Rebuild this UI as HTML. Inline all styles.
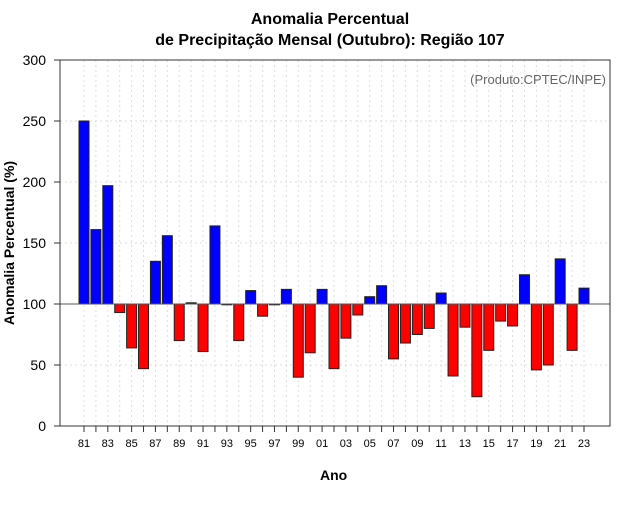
<!DOCTYPE html>
<html><head><meta charset="utf-8"><style>
body{margin:0;background:#fff;font-family:"Liberation Sans",sans-serif}
</style></head><body>
<svg id="c" width="640" height="500" xmlns="http://www.w3.org/2000/svg" font-family="Liberation Sans, sans-serif"></svg>
<script>
const years=["81","82","83","84","85","86","87","88","89","90","91","92","93","94","95","96","97","98","99","00","01","02","03","04","05","06","07","08","09","10","11","12","13","14","15","16","17","18","19","20","21","22","23"];
const values=[250,161,197,93,64,47,135,156,70,101,61,164,100,70,111,90,100,112,40,60,112,47,72,91,106,115,55,68,75,80,109,41,81,24,62,86,82,124,46,50,137,62,113];
const yTicks=[0,50,100,150,200,250,300];
const svg=document.getElementById('c');
const NS="http://www.w3.org/2000/svg";
const L=60,R=610,T=60,B=426,x0=84,dx=(584-84)/42;
const X=i=>x0+i*dx, Y=v=>B-(v/300)*(B-T);
function el(t,a,txt){const e=document.createElementNS(NS,t);for(const k in a)e.setAttribute(k,a[k]);if(txt!==undefined)e.textContent=txt;svg.appendChild(e);return e;}
years.forEach((y,i)=>{const g=el('line',{x1:X(i),x2:X(i),y1:T,y2:B,stroke:'#ddd','stroke-dasharray':'2,3'});

});
yTicks.forEach(v=>{const g=el('line',{x1:L,x2:R,y1:Y(v),y2:Y(v),stroke:'#ddd','stroke-dasharray':'2,3'});


const t=el('line',{x1:L-6,x2:L,y1:Y(v),y2:Y(v),stroke:'#333'});


const l=el('text',{x:L-14,y:Y(v)+5,'text-anchor':'end','font-size':14,fill:'#000'},v);

});
values.forEach((v,i)=>{const top=Math.min(Y(v),Y(100)),h=Math.abs(Y(v)-Y(100));
const b=el('rect',{x:X(i)-5,y:top,width:10,height:Math.max(h,0.8),fill:v>=100?'#0000ff':'#ff0000',stroke:'#222','stroke-width':1});


const t=el('line',{x1:X(i),x2:X(i),y1:B,y2:B+6,stroke:'#333'});


if(i%2==0){const l=el('text',{x:X(i),y:B+21,'text-anchor':'middle','font-size':11,fill:'#000'},years[i]);

}});
const bl=el('line',{x1:L,x2:R,y1:Y(100),y2:Y(100),stroke:'#555','stroke-width':1});


const box=el('rect',{x:L,y:T,width:R-L,height:B-T,fill:'none',stroke:'#333'});


</script>
<div style="position:absolute;left:0;top:0;width:640px;height:500px;pointer-events:none">
<div style="position:absolute;top:9px;width:640px;text-align:center;font-weight:bold;font-size:16px;line-height:21px;padding-left:20px;box-sizing:border-box">Anomalia Percentual<br>de Precipitação Mensal (Outubro): Região 107</div>
<div style="position:absolute;right:34px;top:72px;font-size:13px;color:#666">(Produto:CPTEC/INPE)</div>
<div style="position:absolute;left:320px;top:467px;font-weight:bold;font-size:14px">Ano</div>
<div style="position:absolute;left:9px;top:243px;font-weight:bold;font-size:14px;transform:translate(-50%,-50%) rotate(-90deg);white-space:nowrap;transform-origin:center">Anomalia Percentual (%)</div>
</div>
</body></html>
